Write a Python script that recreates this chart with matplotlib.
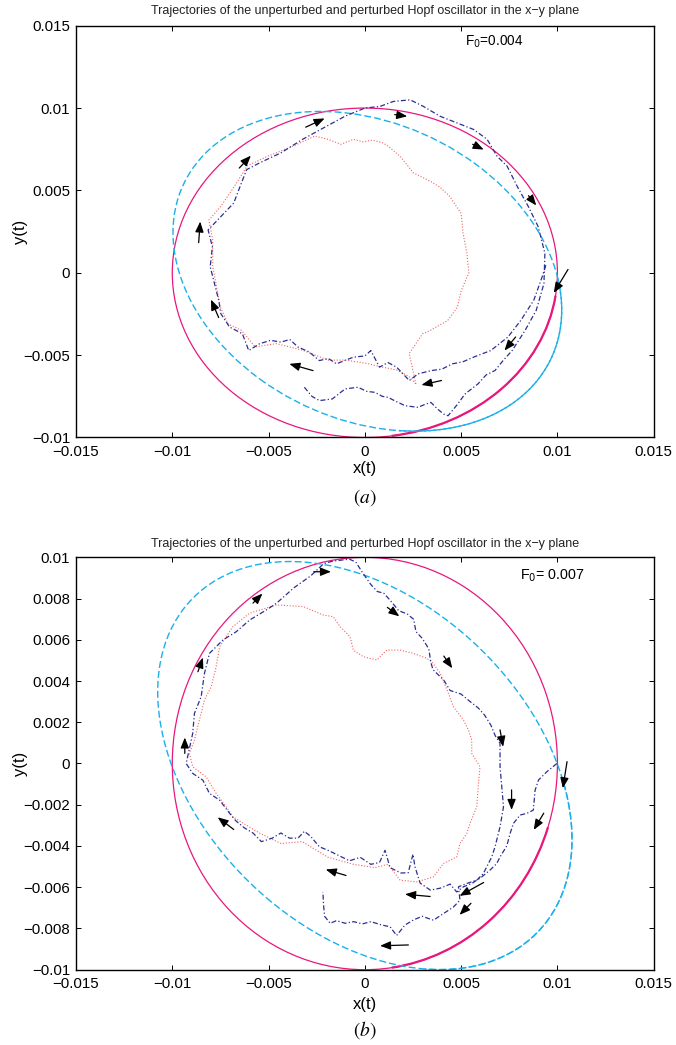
import numpy as np
import matplotlib
matplotlib.use("Agg")
import matplotlib.pyplot as plt
from matplotlib.patches import Ellipse, Circle, Arc

plt.rcParams['font.family'] = ['Liberation Sans', 'DejaVu Sans']

# ---------------- data ----------------
TITLE = "Trajectories of the unperturbed and perturbed Hopf oscillator in the x\u2212y plane"
x_ticks = [-0.015, -0.01, -0.005, 0, 0.005, 0.01, 0.015]
x_tick_labels = ["\u22120.015", "\u22120.01", "\u22120.005", "0", "0.005", "0.01", "0.015"]
ya_ticks = [-0.01, -0.005, 0, 0.005, 0.01, 0.015]
ya_tick_labels = ["\u22120.01", "\u22120.005", "0", "0.005", "0.01", "0.015"]
yb_ticks = [-0.01, -0.008, -0.006, -0.004, -0.002, 0, 0.002, 0.004, 0.006, 0.008, 0.01]
yb_tick_labels = ["\u22120.01", "\u22120.008", "\u22120.006", "\u22120.004", "\u22120.002", "0",
                  "0.002", "0.004", "0.006", "0.008", "0.01"]

# unperturbed limit cycle (circle) and perturbed-solution ellipse parameters
circle_radius = 0.01
ellipseA = dict(center=(0.13e-3, 0.09e-3), major=11.05e-3, minor=8.6e-3, angle=-40.4)
ellipseB = dict(center=(0.0, -0.1e-3), major=12.1e-3, minor=8.2e-3, angle=-38.5)

# (a) F0 = 0.004 : perturbed trajectory (blue dash-dot)
blueA_x = [-3.14e-3, -2.75e-3, -2.36e-3, -1.69e-3, -1.3e-3, -1.02e-3, -0.36e-3, 0.1e-3, 0.53e-3, 0.9e-3, 1.2e-3,
           1.6e-3, 2.09e-3, 2.76e-3, 3.1e-3, 3.43e-3, 3.8e-3, 4.1e-3, 4.32e-3, 4.8e-3, 5.2e-3, 5.87e-3, 6.3e-3,
           6.76e-3, 7.2e-3, 7.65e-3, 8.32e-3, 8.9e-3, 9.3e-3, 9.35e-3, 9.0e-3, 8.5e-3, 7.91e-3, 7.39e-3,
           6.87e-3, 6.35e-3, 5.65e-3, 4.78e-3, 3.91e-3, 3.04e-3, 2.35e-3, 1.48e-3, 0.79e-3, 0.0, -1.02e-3,
           -2.14e-3, -3.25e-3, -4.36e-3, -5.47e-3, -6.14e-3, -6.48e-3, -6.81e-3, -7.48e-3, -8.14e-3, -7.92e-3,
           -8.03e-3, -7.81e-3, -7.59e-3, -7.48e-3, -7.03e-3, -6.36e-3, -6.03e-3, -5.47e-3, -4.9e-3, -4.36e-3,
           -3.9e-3, -3.47e-3, -2.9e-3, -2.36e-3, -1.9e-3, -1.47e-3, -1.0e-3, -0.58e-3, 0.0, 0.31e-3, 0.76e-3,
           1.2e-3, 1.65e-3, 2.31e-3, 2.76e-3, 3.43e-3, 4.0e-3, 4.54e-3, 5.1e-3, 5.65e-3, 6.54e-3, 7.43e-3,
           8.1e-3, 8.77e-3, 9.21e-3, 9.43e-3]
blueA_y = [-6.95e-3, -7.5e-3, -7.76e-3, -7.66e-3, -7.3e-3, -7.05e-3, -6.95e-3, -7.2e-3, -7.26e-3, -7.5e-3,
           -7.56e-3, -7.8e-3, -8.07e-3, -8.17e-3, -8.0e-3, -7.87e-3, -8.3e-3, -8.58e-3, -8.68e-3, -8.0e-3,
           -7.36e-3, -6.75e-3, -6.2e-3, -5.93e-3, -5.3e-3, -4.72e-3, -3.5e-3, -2.28e-3, -0.65e-3, 1.18e-3,
           2.8e-3, 4.0e-3, 5.25e-3, 6.47e-3, 7.07e-3, 8.1e-3, 8.7e-3, 9.1e-3, 9.5e-3, 10.1e-3, 10.5e-3,
           10.4e-3, 10.1e-3, 10.0e-3, 9.51e-3, 8.8e-3, 8.09e-3, 7.28e-3, 6.67e-3, 6.26e-3, 5.24e-3, 4.23e-3,
           3.41e-3, 2.6e-3, 1.59e-3, 0.37e-3, -0.65e-3, -1.67e-3, -2.48e-3, -3.29e-3, -3.7e-3, -4.72e-3,
           -4.31e-3, -4.1e-3, -4.21e-3, -4.05e-3, -4.51e-3, -4.8e-3, -5.33e-3, -5.2e-3, -5.53e-3, -5.3e-3,
           -5.12e-3, -5.05e-3, -4.72e-3, -5.73e-3, -5.45e-3, -5.73e-3, -6.54e-3, -6.14e-3, -5.94e-3, -5.85e-3,
           -5.53e-3, -5.4e-3, -5.12e-3, -4.72e-3, -3.9e-3, -2.89e-3, -1.67e-3, -0.24e-3, 0.57e-3]
# (a) inner trajectory (red dotted)
redA_x = [2.65e-3, 2.3e-3, 3.0e-3, 3.4e-3, 4.3e-3, 4.8e-3, 5.0e-3, 5.4e-3, 5.3e-3, 5.1e-3, 5.0e-3, 4.4e-3,
          3.9e-3, 3.39e-3, 2.52e-3, 1.83e-3, 1.3e-3, 0.96e-3, 0.4e-3, -0.1e-3, -0.6e-3, -1.25e-3, -1.9e-3,
          -2.6e-3, -3.7e-3, -5.0e-3, -6.1e-3, -6.8e-3, -7.5e-3, -8.1e-3, -7.9e-3, -7.9e-3, -7.7e-3, -7.5e-3,
          -7.1e-3, -6.4e-3, -5.7e-3, -4.6e-3, -3.25e-3, -1.9e-3, -1.0e-3, 0.1e-3, 0.8e-3, 1.65e-3, 2.3e-3,
          2.65e-3]
redA_y = [-6.75e-3, -4.9e-3, -3.7e-3, -3.5e-3, -2.9e-3, -2.1e-3, -1.1e-3, 0.0, 1.2e-3, 2.4e-3, 3.6e-3,
          4.65e-3, 5.2e-3, 5.56e-3, 6.07e-3, 7.07e-3, 7.6e-3, 7.88e-3, 8.05e-3, 7.95e-3, 8.1e-3, 7.8e-3,
          8.1e-3, 8.3e-3, 7.7e-3, 7.1e-3, 6.5e-3, 5.2e-3, 4.0e-3, 3.2e-3, 2.0e-3, 0.4e-3, -0.85e-3, -2.1e-3,
          -3.1e-3, -3.5e-3, -4.5e-3, -4.3e-3, -4.7e-3, -5.3e-3, -5.3e-3, -5.5e-3, -5.7e-3, -5.9e-3, -6.3e-3,
          -6.75e-3]
# (a) direction arrows: tail -> head
arrA_tail_x = [-3.07e-3, -6.52e-3, -8.63e-3, -7.59e-3, -2.69e-3, 3.98e-3, 7.83e-3, 10.55e-3, 8.5e-3, 5.6e-3, 1.55e-3]
arrA_tail_y = [8.84e-3, 6.36e-3, 1.83e-3, -2.72e-3, -5.94e-3, -6.54e-3, -3.9e-3, 0.2e-3, 4.68e-3, 7.8e-3, 9.6e-3]
arrA_head_x = [-2.09e-3, -5.92e-3, -8.55e-3, -7.99e-3, -3.92e-3, 2.94e-3, 7.25e-3, 9.81e-3, 8.9e-3, 6.17e-3, 2.2e-3]
arrA_head_y = [9.37e-3, 7.11e-3, 3.11e-3, -1.63e-3, -5.53e-3, -6.81e-3, -4.72e-3, -1.22e-3, 4.09e-3, 7.48e-3, 9.5e-3]

# (b) F0 = 0.007 : perturbed trajectory (blue dash-dot)
blueB_x = [9.97e-3, 9.45e-3, 9.02e-3, 8.84e-3, 8.75e-3, 8.41e-3, 8.06e-3, 7.72e-3, 7.54e-3, 7.37e-3, 7.02e-3,
           6.85e-3, 6.5e-3, 6.07e-3, 5.55e-3, 5.12e-3, 4.77e-3, 4.43e-3, 3.9e-3, 3.4e-3, 2.87e-3, 2.6e-3,
           2.5e-3, 2.25e-3, 1.87e-3, 1.31e-3, 1.05e-3, 0.76e-3, 0.31e-3, -0.24e-3, -0.8e-3, -1.36e-3, -1.91e-3,
           -2.36e-3, -2.81e-3, -3.14e-3, -3.47e-3, -3.92e-3, -4.36e-3, -4.81e-3, -5.37e-3, -5.81e-3, -6.26e-3,
           -6.7e-3, -7.02e-3, -7.54e-3, -8.07e-3, -8.41e-3, -8.94e-3, -9.28e-3, -8.94e-3, -8.85e-3, -8.5e-3,
           -8.33e-3, -8.07e-3, -7.37e-3, -6.68e-3, -5.98e-3, -5.11e-3, -4.59e-3, -3.7e-3, -2.81e-3, -2.14e-3,
           -1.69e-3, -1.25e-3, -0.8e-3, -0.47e-3, -0.13e-3, 0.31e-3, 0.65e-3, 0.98e-3, 1.31e-3, 1.76e-3, 2.2e-3,
           2.54e-3, 2.65e-3, 2.98e-3, 3.32e-3, 3.43e-3, 3.54e-3, 4.1e-3, 4.43e-3, 4.99e-3, 5.43e-3, 5.88e-3,
           6.21e-3, 6.55e-3, 6.77e-3, 7.02e-3, 7.02e-3, 7.11e-3, 7.2e-3, 7.02e-3, 6.76e-3, 6.59e-3, 6.33e-3,
           6.16e-3, 5.81e-3, 5.29e-3, 4.86e-3, 4.94e-3, 4.6e-3, 4.08e-3, 3.56e-3, 2.98e-3, 2.54e-3, 2.09e-3,
           1.65e-3, 1.31e-3, 0.87e-3, 0.31e-3, -0.13e-3, -0.58e-3, -1.02e-3, -1.47e-3, -1.8e-3, -2.09e-3,
           -2.14e-3, -2.18e-3]
blueB_y = [0.0, -0.4e-3, -0.8e-3, -1.3e-3, -2.26e-3, -2.42e-3, -2.5e-3, -2.9e-3, -3.4e-3, -4.0e-3, -4.53e-3,
           -4.85e-3, -5.17e-3, -5.5e-3, -5.82e-3, -5.98e-3, -6.23e-3, -5.85e-3, -6.05e-3, -6.14e-3, -5.8e-3,
           -5.0e-3, -4.4e-3, -5.3e-3, -5.31e-3, -5.05e-3, -4.21e-3, -4.8e-3, -4.89e-3, -4.55e-3, -4.72e-3,
           -4.46e-3, -4.21e-3, -4.04e-3, -3.54e-3, -3.29e-3, -3.62e-3, -3.62e-3, -3.37e-3, -3.62e-3, -3.79e-3,
           -3.37e-3, -3.12e-3, -2.78e-3, -2.42e-3, -1.78e-3, -1.45e-3, -0.81e-3, -0.48e-3, 0.0, 1.46e-3,
           2.43e-3, 3.24e-3, 4.37e-3, 5.34e-3, 5.99e-3, 6.39e-3, 6.96e-3, 7.45e-3, 7.77e-3, 8.51e-3, 9.1e-3,
           9.69e-3, 9.81e-3, 9.86e-3, 9.91e-3, 9.77e-3, 9.27e-3, 8.68e-3, 8.34e-3, 8.26e-3, 7.92e-3, 7.41e-3,
           7.25e-3, 6.99e-3, 6.4e-3, 6.07e-3, 5.56e-3, 4.89e-3, 4.55e-3, 4.04e-3, 3.54e-3, 3.37e-3, 3.03e-3,
           2.7e-3, 2.36e-3, 1.85e-3, 1.35e-3, 0.98e-3, -0.16e-3, -1.13e-3, -2.1e-3, -3.07e-3, -4.04e-3,
           -4.53e-3, -5.01e-3, -5.33e-3, -5.66e-3, -5.82e-3, -5.98e-3, -6.63e-3, -6.96e-3, -7.28e-3, -7.6e-3,
           -7.41e-3, -7.58e-3, -7.83e-3, -8.34e-3, -7.92e-3, -7.83e-3, -7.67e-3, -7.78e-3, -7.67e-3, -7.75e-3,
           -7.62e-3, -7.75e-3, -7.41e-3, -6.91e-3, -6.23e-3]
# (b) inner trajectory (red dotted)
redB_x = [-4.59e-3, -5.98e-3, -6.85e-3, -7.54e-3, -7.72e-3, -7.98e-3, -8.33e-3, -8.59e-3, -8.85e-3, -9.11e-3,
          -8.94e-3, -8.24e-3, -7.72e-3, -7.2e-3, -6.85e-3, -5.48e-3, -4.36e-3, -3.25e-3, -1.91e-3, -0.58e-3,
          0.53e-3, 1.2e-3, 1.83e-3, 2.7e-3, 3.56e-3, 4.08e-3, 4.77e-3, 4.94e-3, 5.29e-3, 5.46e-3, 5.81e-3,
          5.9e-3, 5.98e-3, 5.55e-3, 5.55e-3, 5.38e-3, 5.12e-3, 4.6e-3, 4.3e-3, 3.9e-3, 3.5e-3, 3.22e-3, 2.52e-3,
          1.83e-3, 1.14e-3, 0.62e-3, -0.08e-3, -0.6e-3, -0.77e-3, -1.29e-3, -1.64e-3, -2.16e-3, -3.2e-3,
          -4.59e-3]
redB_y = [7.69e-3, 7.29e-3, 6.64e-3, 5.67e-3, 4.7e-3, 3.72e-3, 3.08e-3, 2.11e-3, 1.14e-3, 0.49e-3, -0.16e-3,
          -0.65e-3, -1.45e-3, -2.1e-3, -2.59e-3, -3.37e-3, -3.88e-3, -3.79e-3, -4.55e-3, -4.89e-3, -5.05e-3,
          -4.89e-3, -5.66e-3, -5.74e-3, -5.5e-3, -4.85e-3, -4.53e-3, -3.88e-3, -3.4e-3, -2.91e-3, -2.1e-3,
          -0.97e-3, -0.16e-3, 0.49e-3, 1.14e-3, 1.62e-3, 2.11e-3, 2.75e-3, 3.5e-3, 4.4e-3, 4.9e-3, 5.1e-3,
          5.34e-3, 5.5e-3, 5.5e-3, 5.02e-3, 5.18e-3, 5.5e-3, 6.15e-3, 6.64e-3, 7.12e-3, 7.2e-3, 7.61e-3,
          7.69e-3]
# (b) direction arrows: tail -> head
arrB_tail_x = [-2.65e-3, -5.81e-3, -8.67e-3, -9.35e-3, -6.81e-3, -0.98e-3, 3.39e-3, 2.26e-3, 6.17e-3, 5.51e-3,
               9.29e-3, 7.62e-3, 10.5e-3, 7.02e-3, 4.1e-3, 1.17e-3]
arrB_tail_y = [9.3e-3, 7.78e-3, 4.45e-3, 0.49e-3, -3.2e-3, -5.43e-3, -6.45e-3, -8.8e-3, -5.77e-3, -6.78e-3,
               -2.41e-3, -1.28e-3, 0.09e-3, 1.63e-3, 5.21e-3, 7.57e-3]
arrB_head_x = [-1.76e-3, -5.32e-3, -8.41e-3, -9.35e-3, -7.64e-3, -2.03e-3, 2.09e-3, 0.79e-3, 4.92e-3, 4.92e-3,
               8.77e-3, 7.62e-3, 10.28e-3, 7.18e-3, 4.54e-3, 1.79e-3]
arrB_head_y = [9.3e-3, 8.24e-3, 5.14e-3, 1.26e-3, -2.61e-3, -5.14e-3, -6.34e-3, -8.84e-3, -6.42e-3, -7.34e-3,
               -3.22e-3, -2.25e-3, -1.2e-3, 0.81e-3, 4.62e-3, 7.14e-3]

# ---------------- styles ----------------
C_MAG = '#e8177e'
C_CYAN = '#1ab0ea'
C_BLUE = '#2b2f92'
C_RED = '#f04848'


def style_axes(ax, yticks, ylabels, ylim):
    ax.set_xlim(-0.015, 0.015)
    ax.set_ylim(*ylim)
    ax.set_xticks(x_ticks)
    ax.set_xticklabels(x_tick_labels)
    ax.set_yticks(yticks)
    ax.set_yticklabels(ylabels)
    ax.tick_params(direction='in', length=3.6, width=0.7, top=True, right=True,
                   labelsize=10.8, colors='black')
    ax.tick_params(axis='y', pad=4.3)
    ax.tick_params(axis='x', pad=5.2)
    for s in ax.spines.values():
        s.set_linewidth(1.0)


def draw_panel(ax, ell, arc_ell, arc_circ, bx, by, rx, ry, tx, ty, hx, hy):
    ax.add_patch(Circle((0, 0), circle_radius, fill=False, ec=C_MAG, lw=0.9, zorder=2))
    ax.add_patch(Arc((0, 0), 2 * circle_radius, 2 * circle_radius, theta1=arc_circ[0], theta2=arc_circ[1],
                     ec=C_MAG, lw=1.6, zorder=2))
    ax.add_patch(Ellipse(ell['center'], 2 * ell['major'], 2 * ell['minor'], angle=ell['angle'],
                         fill=False, ec=C_CYAN, lw=1.0, ls=(0, (5, 2.2)), zorder=2))
    ax.add_patch(Arc(ell['center'], 2 * ell['major'], 2 * ell['minor'], angle=ell['angle'],
                     theta1=arc_ell[0], theta2=arc_ell[1],
                     ec=C_CYAN, lw=1.0, ls=(3.6, (5, 2.2)), zorder=2))
    ax.plot(rx, ry, color=C_RED, lw=0.8, ls=(0, (1, 1.6)), alpha=0.85, zorder=3)
    ax.plot(bx, by, color=C_BLUE, lw=0.9, ls=(0, (4, 1.8, 1, 1.8)), zorder=4)
    for x0, y0, x1, y1 in zip(tx, ty, hx, hy):
        ax.annotate('', xy=(x1, y1), xytext=(x0, y0),
                    arrowprops=dict(arrowstyle='-|>,head_length=0.7,head_width=0.28', color='black',
                                    lw=0.9, shrinkA=0, shrinkB=0, mutation_scale=9), zorder=5)


fig = plt.figure(figsize=(6.76, 10.45), dpi=100)
ax1 = fig.add_axes([0.11243, 0.58134, 0.85458, 0.39407])
ax2 = fig.add_axes([0.11243, 0.07206, 0.85458, 0.39464])

style_axes(ax1, ya_ticks, ya_tick_labels, (-0.01, 0.015))
style_axes(ax2, yb_ticks, yb_tick_labels, (-0.01, 0.01))

draw_panel(ax1, ellipseA, (-40, 38), (-82, -8), blueA_x, blueA_y, redA_x, redA_y,
           arrA_tail_x, arrA_tail_y, arrA_head_x, arrA_head_y)
draw_panel(ax2, ellipseB, (-34, 34), (-82, -18), blueB_x, blueB_y, redB_x, redB_y,
           arrB_tail_x, arrB_tail_y, arrB_head_x, arrB_head_y)

ax1.text(5.2e-3, 13.8e-3, r'F$_0$=0.004', fontsize=9.8, va='baseline', ha='left')
ax2.text(8.05e-3, 8.9e-3, r'F$_0$= 0.007', fontsize=10.3, va='baseline', ha='left')

# titles, axis labels and panel labels
fig.text(0.5397, 0.9895, TITLE, fontsize=9, ha='center', va='center', color='#222222')
fig.text(0.5397, 0.4794, TITLE, fontsize=9, ha='center', va='center', color='#222222')
fig.text(0.5397, 0.5512, 'x(t)', fontsize=12, ha='center', va='center')
fig.text(0.5397, 0.0383, 'x(t)', fontsize=12, ha='center', va='center')
fig.text(0.0296, 0.7784, 'y(t)', fontsize=12, ha='center', va='center', rotation=90)
fig.text(0.0296, 0.2694, 'y(t)', fontsize=12, ha='center', va='center', rotation=90)
fig.text(0.5397, 0.5237, r'$(a)$', fontsize=14, ha='center', va='center', math_fontfamily='stix')
fig.text(0.5397, 0.0144, r'$(b)$', fontsize=14, ha='center', va='center', math_fontfamily='stix')

fig.savefig("out.png", dpi=100)
